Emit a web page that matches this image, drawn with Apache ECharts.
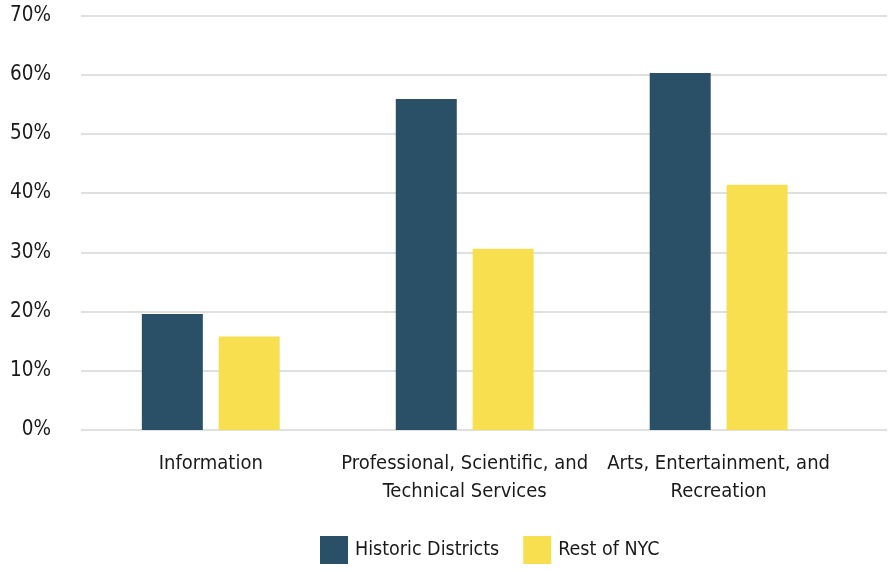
<!DOCTYPE html>
<html><head><meta charset="utf-8">
<script src="https://cdn.jsdelivr.net/npm/echarts@6/dist/echarts.min.js"></script>
<style>html,body{margin:0;padding:0;background:#fff}#c{width:894px;height:571px}</style>
</head><body><div id="c"></div>
<script>
const categories = ["Information", "Professional, Scientific, and\nTechnical Services", "Arts, Entertainment, and\nRecreation"];
const historicDistricts = [19.6, 55.9, 60.3];
const restOfNYC = [15.8, 30.6, 41.4];
const seriesNames = ["Historic Districts", "Rest of NYC"];
const FONT = '"DejaVu Sans Condensed", "Noto Sans", sans-serif';
const idx = categories.map((c, i) => i);
const chart = echarts.init(document.getElementById('c'));
chart.setOption({
  animation: false,
  textStyle: {fontFamily: FONT},
  grid: {left: 81, right: 7, top: 15.5, bottom: 141},
  legend: {
    bottom: 2, left: 315, itemWidth: 28, itemHeight: 28, itemGap: 24,
    icon: 'rect',
    textStyle: {fontFamily: FONT, fontSize: 19.5, color: '#1a1a1a', padding: [0,0,0,2]},
    data: seriesNames
  },
  xAxis: {
    type: 'value', min: -0.511, max: 2.663,
    splitLine: {show: false},
    axisLine: {show: false}, axisTick: {show: false},
    axisLabel: {
      customValues: idx,
      formatter: v => categories[Math.round(v)] || '',
      fontFamily: FONT, fontSize: 20, color: '#1a1a1a', lineHeight: 28, margin: 20,
      hideOverlap: false
    }
  },
  yAxis: {
    type: 'value', min: 0, max: 70, interval: 10,
    axisLabel: {formatter: '{value}%', fontFamily: FONT, fontSize: 20.5, color: '#1a1a1a', margin: 30},
    splitLine: {lineStyle: {color: '#e0e0e0', width: 2}},
    axisLine: {show: false}, axisTick: {show: false}
  },
  series: [
    {name: seriesNames[0], type: 'bar', data: idx.map(i => [i, historicDistricts[i]]), barWidth: 61, barGap: '26%', itemStyle: {color: '#2a5068'}},
    {name: seriesNames[1], type: 'bar', data: idx.map(i => [i, restOfNYC[i]]), barWidth: 61, itemStyle: {color: '#f7df50'}}
  ]
});
</script></body></html>
